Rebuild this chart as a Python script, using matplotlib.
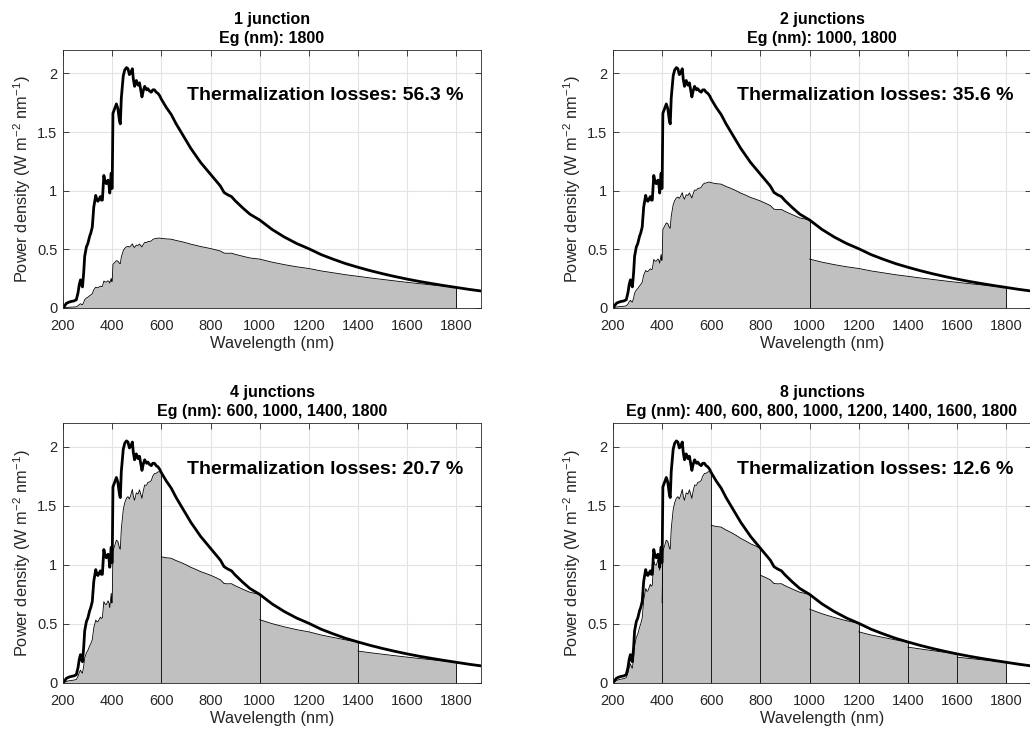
import matplotlib.pyplot as plt
import numpy as np

plt.rcParams['font.family'] = ['Liberation Sans', 'DejaVu Sans']
plt.rcParams['mathtext.fontset'] = 'custom'
plt.rcParams['mathtext.rm'] = 'Liberation Sans'
plt.rcParams['mathtext.default'] = 'regular'

# solar spectrum (nm, W m^-2 nm^-1)
wavelength = [200, 207, 214, 224, 234, 244, 254, 261, 266, 271, 275, 279, 284,
              288, 295, 301, 308, 313, 319, 325, 333, 338, 342, 347, 352, 356,
              360, 366, 371, 376, 383, 387, 390, 396, 398, 400, 403, 410, 417,
              423, 430, 433, 437, 445, 451, 458, 464, 470, 474, 482, 486, 491,
              498, 505, 511, 516, 521, 526, 532, 540, 545, 552, 559, 565, 572,
              579, 586, 593, 600, 620, 640, 660, 680, 700, 720, 740, 760, 780,
              800, 820, 840, 855, 870, 885, 900, 930, 960, 1000, 1050, 1100,
              1150, 1200, 1250, 1300, 1350, 1400, 1450, 1500, 1550, 1600, 1650,
              1700, 1750, 1800, 1850, 1900]
power = [0.0, 0.02, 0.04, 0.05, 0.056, 0.06, 0.07, 0.13, 0.2, 0.24, 0.2, 0.18, 0.3,
         0.44, 0.52, 0.55, 0.61, 0.64, 0.69, 0.86, 0.96, 0.92, 0.91, 0.93, 0.95, 0.92,
         0.92, 1.13, 1.08, 1.06, 1.09, 1.05, 0.98, 1.15, 1.02, 1.02, 1.66, 1.70, 1.74,
         1.70, 1.59, 1.57, 1.79, 1.98, 2.03, 2.05, 2.04, 1.99, 2.00, 2.04, 1.95, 1.89,
         1.94, 1.90, 1.92, 1.86, 1.80, 1.85, 1.89, 1.86, 1.87, 1.85, 1.84, 1.86, 1.86,
         1.84, 1.83, 1.81, 1.78, 1.71, 1.65, 1.57, 1.50, 1.43, 1.36, 1.30, 1.24, 1.19,
         1.14, 1.09, 1.04, 0.985, 0.965, 0.95, 0.915, 0.855, 0.80, 0.75, 0.67, 0.605,
         0.55, 0.505, 0.455, 0.415, 0.378, 0.347, 0.318, 0.292, 0.268, 0.246, 0.226,
         0.208, 0.191, 0.175, 0.159, 0.145]

bandgaps = [[1800],
            [1000, 1800],
            [600, 1000, 1400, 1800],
            [400, 600, 800, 1000, 1200, 1400, 1600, 1800]]
titles = ['1 junction', '2 junctions', '4 junctions', '8 junctions']
losses = [56.3, 35.6, 20.7, 12.6]

wl = np.array(wavelength, dtype=float)
pw = np.array(power)

dark = '#262626'
fig = plt.figure(figsize=(10.3, 7.34), dpi=100)
positions = [[0.0612, 0.5804, 0.4058, 0.3515],
             [0.5951, 0.5804, 0.4058, 0.3515],
             [0.0612, 0.0695, 0.4058, 0.354],
             [0.5951, 0.0695, 0.4058, 0.354]]

for pos, egs, title, loss in zip(positions, bandgaps, titles, losses):
    ax = fig.add_axes(pos)
    lo = 200
    for eg in egs:
        m = (wl >= lo) & (wl <= eg)
        used = pw[m] * wl[m] / eg
        ax.fill_between(wl[m], used, color='#c0c0c0', lw=0)
        ax.plot(wl[m], used, 'k-', lw=0.6)
        ax.plot([eg, eg], [0, used[-1]], 'k-', lw=0.6)
        lo = eg
    ax.plot(wl, pw, 'k-', lw=2.0)

    ax.set_xlim(200, 1900)
    ax.set_ylim(0, 2.2)
    ax.set_xticks(range(200, 1801, 200))
    ax.set_yticks([0, 0.5, 1, 1.5, 2])
    ax.set_yticklabels(['0', '0.5', '1', '1.5', '2'])
    ax.grid(True, color='#e3e3e3', lw=0.8)
    ax.set_axisbelow(True)
    ax.tick_params(direction='in', top=True, right=True, length=4, width=0.6,
                   colors=dark, labelsize=10.5)
    ax.tick_params(axis='x', pad=8)
    ax.tick_params(axis='y', pad=4)
    for s in ax.spines.values():
        s.set_color(dark)
        s.set_linewidth(0.6)

    ax.set_xlabel('Wavelength (nm)', fontsize=11.8, color=dark, labelpad=2)
    ax.set_ylabel('Power density (W m$^{-2}$ nm$^{-1}$)', fontsize=11.8,
                  color=dark, labelpad=3)
    ax.set_title(title + '\nEg (nm): ' + ', '.join(str(e) for e in egs),
                 fontsize=11.5, fontweight='bold', pad=5, linespacing=1.35)
    ax.text(705, 1.81, f'Thermalization losses: {loss} %', fontsize=14,
            fontweight='bold', ha='left', va='center')

fig.savefig('out.png', dpi=100)
